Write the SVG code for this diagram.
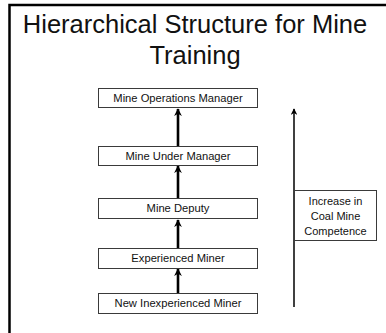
<svg xmlns="http://www.w3.org/2000/svg" width="386" height="333" viewBox="0 0 386 333">
  <style>
    .title { font-family: "Liberation Sans", Arial, sans-serif; font-size: 25.5px; fill: #111; text-anchor: middle; }
    .node rect { fill: #fff; stroke: #3a3a3a; stroke-width: 1; }
    .node text { font-family: "Liberation Sans", Arial, sans-serif; font-size: 11.2px; fill: #111; text-anchor: middle; }
    .link { stroke: #000; stroke-width: 2.6; fill: none; marker-end: url(#head); }
    .axis { stroke: #000; stroke-width: 1.5; fill: none; marker-end: url(#headThin); }
    .label rect { fill: #fff; stroke: #3a3a3a; stroke-width: 1; }
    .label text { font-family: "Liberation Sans", Arial, sans-serif; font-size: 11px; fill: #111; text-anchor: middle; }
  </style>
  <defs>
    <marker id="head" viewBox="0 0 10 10" refX="9" refY="5" markerWidth="3" markerHeight="3" orient="auto" markerUnits="strokeWidth">
      <path d="M0,0 L10,5 L0,10 L3,5 Z" fill="#000"/>
    </marker>
    <marker id="headThin" viewBox="0 0 10 10" refX="9" refY="5" markerWidth="4.5" markerHeight="4.5" orient="auto" markerUnits="strokeWidth">
      <path d="M0,0 L10,5 L0,10 L3,5 Z" fill="#000"/>
    </marker>
  </defs>

  <rect width="386" height="333" fill="#fff"/>
  <!-- slide frame -->
  <path d="M9.5,333 V5 H386" fill="none" stroke="#000" stroke-width="2.5"/>

  <text class="title" x="195" y="33">Hierarchical Structure for Mine</text>
  <text class="title" x="195" y="64">Training</text>

  <g id="connectors">
    <line class="link" x1="178" y1="146" x2="178" y2="109"/>
    <line class="link" x1="178" y1="198" x2="178" y2="166"/>
    <line class="link" x1="178" y1="248" x2="178" y2="220"/>
    <line class="link" x1="178" y1="293" x2="178" y2="269"/>
    <line class="axis" x1="294" y1="307" x2="294" y2="109"/>
  </g>

  <g id="mine-operations-manager" class="node">
    <rect x="98.5" y="88.5" width="159" height="19"/>
    <text x="178" y="102">Mine Operations Manager</text>
  </g>
  <g id="mine-under-manager" class="node">
    <rect x="98.5" y="146.5" width="159" height="19"/>
    <text x="178" y="160">Mine Under Manager</text>
  </g>
  <g id="mine-deputy" class="node">
    <rect x="98.5" y="198.5" width="159" height="20"/>
    <text x="178" y="212">Mine Deputy</text>
  </g>
  <g id="experienced-miner" class="node">
    <rect x="98.5" y="248.5" width="159" height="20"/>
    <text x="178" y="262">Experienced Miner</text>
  </g>
  <g id="new-inexperienced-miner" class="node">
    <rect x="98.5" y="293.5" width="159" height="20"/>
    <text x="178" y="307">New Inexperienced Miner</text>
  </g>

  <g id="competence-label" class="label">
    <rect x="294.5" y="190.5" width="82" height="50"/>
    <text x="335.5" y="205">Increase in</text>
    <text x="335.5" y="220">Coal Mine</text>
    <text x="335.5" y="235">Competence</text>
  </g>
</svg>
